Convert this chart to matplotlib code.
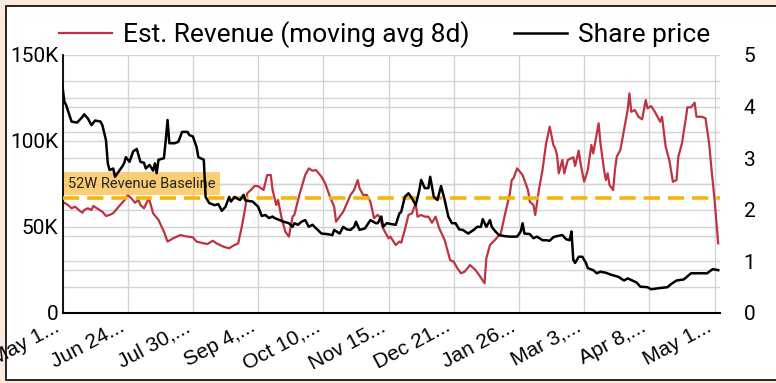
import matplotlib
matplotlib.use("Agg")
import matplotlib.pyplot as plt
from matplotlib.patches import Rectangle
from matplotlib.ticker import MultipleLocator, FuncFormatter
from matplotlib.transforms import blended_transform_factory

# days since May 19 (approx.)
price_days = [0, 1, 2, 5, 8, 11, 12, 14, 16, 18, 21, 22, 24, 25, 26, 28, 29, 31, 33, 34,
              35, 37, 39, 41, 43, 45, 46, 48, 50, 51, 52, 53, 56, 57, 58, 59, 62, 64, 66, 69,
              70, 72, 74, 75, 78, 79, 81, 84, 86, 88, 90, 92, 93, 95, 98, 100, 101, 105, 108, 110,
              112, 114, 116, 117, 120, 122, 125, 127, 128, 130, 132, 134, 136, 138, 140, 143, 146, 149, 150, 153,
              155, 157, 159, 161, 162, 164, 167, 170, 173, 174, 176, 177, 179, 182, 184, 186, 187, 189, 191, 193,
              195, 197, 198, 200, 202, 203, 205, 207, 209, 211, 213, 215, 217, 219, 221, 224, 227, 229, 231, 232,
              234, 236, 237, 239, 241, 244, 247, 251, 253, 254, 255, 258, 260, 262, 265, 267, 269, 271, 273, 276,
              278, 280, 281, 282, 283, 285, 287, 289, 290, 293, 295, 297, 300, 303, 307, 310, 312, 314, 317, 319,
              323, 325, 329, 334, 336, 339, 343, 346, 347, 351, 356, 357, 359, 362]
share_price = [4.39, 4.10, 4.03, 3.71, 3.69, 3.80, 3.85, 3.77, 3.64, 3.73, 3.71, 3.64, 3.35, 2.90, 2.77, 2.80, 2.64, 2.74, 2.84, 2.90,
               3.02, 2.93, 3.13, 3.18, 2.93, 2.91, 2.80, 2.87, 2.76, 2.90, 2.71, 2.97, 3.00, 3.35, 3.74, 3.29, 3.29, 3.32, 3.51, 3.51,
               3.45, 3.42, 3.22, 3.02, 2.97, 2.25, 2.13, 2.09, 2.11, 1.98, 2.06, 2.25, 2.16, 2.25, 2.19, 2.29, 2.18, 2.16, 2.06, 1.88,
               1.90, 1.84, 1.87, 1.84, 1.80, 1.77, 1.74, 1.67, 1.74, 1.71, 1.77, 1.80, 1.67, 1.71, 1.64, 1.54, 1.53, 1.51, 1.61, 1.54,
               1.67, 1.62, 1.61, 1.67, 1.77, 1.61, 1.64, 1.80, 1.74, 1.74, 1.87, 1.67, 1.74, 1.72, 1.71, 1.93, 1.96, 2.25, 2.32, 2.22,
               2.09, 2.38, 2.58, 2.42, 2.42, 2.64, 2.25, 2.19, 2.46, 2.19, 1.87, 1.74, 1.74, 1.62, 1.61, 1.54, 1.61, 1.67, 1.67, 1.82,
               1.67, 1.80, 1.67, 1.58, 1.51, 1.49, 1.48, 1.48, 1.58, 1.74, 1.54, 1.53, 1.45, 1.48, 1.41, 1.41, 1.40, 1.47, 1.49, 1.51,
               1.43, 1.41, 1.58, 1.03, 0.97, 1.09, 1.09, 0.97, 0.87, 0.83, 0.77, 0.80, 0.78, 0.74, 0.70, 0.63, 0.67, 0.64, 0.59, 0.51,
               0.50, 0.46, 0.48, 0.50, 0.56, 0.63, 0.65, 0.74, 0.77, 0.77, 0.77, 0.80, 0.85, 0.83]

rev_days = [0, 1, 3, 5, 7, 9, 11, 12, 14, 16, 17, 19, 22, 24, 26, 28, 31, 34, 36, 38,
            40, 42, 43, 45, 47, 48, 50, 53, 56, 58, 61, 65, 69, 72, 74, 78, 80, 83, 85, 89,
            92, 94, 97, 99, 101, 102, 104, 106, 108, 111, 113, 115, 116, 118, 119, 121, 123, 125, 127, 128,
            131, 134, 136, 138, 140, 143, 145, 148, 150, 151, 153, 155, 157, 159, 161, 163, 164, 166, 168, 170,
            172, 174, 175, 177, 180, 181, 184, 186, 187, 189, 191, 193, 195, 196, 198, 200, 202, 204, 206, 208,
            211, 214, 216, 218, 220, 222, 225, 228, 230, 233, 234, 236, 239, 242, 244, 247, 248, 249, 251, 254,
            255, 257, 258, 260, 261, 263, 265, 267, 269, 271, 272, 273, 274, 276, 277, 279, 282, 283, 285, 286,
            288, 290, 292, 293, 296, 297, 299, 300, 301, 302, 304, 305, 306, 308, 310, 312, 313, 314, 316, 318,
            320, 322, 323, 325, 327, 330, 331, 333, 335, 337, 339, 340, 342, 344, 345, 347, 349, 350, 353, 355,
            357, 358, 360, 362]
revenue_k = [64.7, 64.1, 62.8, 60.9, 61.8, 59.9, 58.3, 59.9, 60.9, 59.9, 62.2, 60.9, 58.9, 56.4, 57.0, 58.0, 61.8, 65.3, 68.6, 66.7,
             64.1, 65.7, 62.8, 60.9, 65.3, 65.7, 58.0, 54.1, 47.3, 41.5, 43.4, 45.3, 44.4, 44.0, 41.5, 40.5, 40.1, 42.0, 40.5, 38.5,
             37.6, 39.0, 40.5, 50.2, 61.8, 69.6, 71.5, 73.8, 73.8, 71.5, 80.2, 80.2, 71.5, 62.8, 65.7, 55.1, 47.3, 44.4, 56.0, 57.0,
             69.6, 80.2, 84.1, 82.7, 83.1, 79.2, 75.4, 66.7, 61.8, 53.1, 56.0, 58.9, 63.8, 68.6, 71.5, 77.3, 72.5, 68.6, 68.6, 64.7,
             55.1, 57.0, 56.0, 49.2, 43.4, 44.4, 39.5, 41.5, 40.9, 48.3, 57.0, 58.0, 63.8, 56.0, 57.0, 56.0, 56.0, 52.5, 56.0, 49.2,
             42.4, 30.8, 29.8, 26.0, 23.1, 24.0, 27.9, 25.0, 22.1, 17.3, 31.8, 39.5, 42.8, 46.3, 56.0, 69.6, 77.3, 78.3, 84.1, 80.2,
             77.3, 71.5, 64.7, 62.8, 57.0, 71.5, 83.1, 98.7, 108.3, 97.7, 95.8, 91.9, 81.2, 89.0, 81.2, 89.0, 90.5, 85.5, 94.4, 87.0,
             76.3, 83.1, 97.7, 92.8, 110.3, 98.7, 83.1, 77.3, 81.2, 74.4, 71.5, 83.1, 90.9, 94.8, 106.4, 118.0, 127.7, 117.0, 118.0, 114.1,
             112.6, 123.8, 119.0, 120.3, 117.0, 111.2, 114.1, 96.7, 89.0, 76.3, 77.3, 90.9, 98.7, 112.2, 119.6, 119.6, 122.3, 114.1, 114.1, 113.2,
             98.7, 87.0, 65.7, 40.5]

baseline_k = 67.0
tick_days = [0, 36, 72, 108, 144, 180, 216, 252, 288, 324, 360]
tick_labels = ["May 1...", "Jun 24...", "Jul 30,...", "Sep 4,...", "Oct 10,...", "Nov 15...",
               "Dec 21...", "Jan 26...", "Mar 3,...", "Apr 8,...", "May 1..."]

fig = plt.figure(figsize=(7.76, 3.83), dpi=100)
fig.patch.set_facecolor("#fbeadb")
fig.add_artist(Rectangle((6 / 776, 3 / 383), 1.0, 1 - 9 / 383, transform=fig.transFigure,
                         facecolor="white", edgecolor="black", linewidth=1.2, zorder=0))

ax = fig.add_axes([62.5 / 776, 1 - 313 / 383, (720 - 62.5) / 776, (313 - 55) / 383])
ax.patch.set_visible(False)
ax2 = ax.twinx()

grid_c = "#d4d4d4"
ax.set_xlim(0, 363)
ax.set_ylim(0, 150)
ax2.set_ylim(0, 5)

# gridlines (all on the bottom axes so lines stay on top)
ax.set_xticks(tick_days)
ax.yaxis.set_major_locator(MultipleLocator(50))
ax.yaxis.set_minor_locator(MultipleLocator(25))
ax.grid(True, which="both", color=grid_c, linewidth=1.0)
ax.set_axisbelow(True)
tr = blended_transform_factory(ax.transAxes, ax2.transData)
for v in [0.5, 1, 1.5, 2, 2.5, 3, 3.5, 4, 4.5]:
    ax.plot([0, 1], [v, v], transform=tr, color=grid_c, linewidth=1.0, zorder=0.5)

red = "#bf3340"
l1, = ax.plot(rev_days, revenue_k, color=red, linewidth=1.6, zorder=2,
              label="Est. Revenue (moving avg 8d)")
ax.axhline(baseline_k, color="#f5b50a", linewidth=2.6, dashes=(4.5, 2.2), zorder=3)
ax.annotate("52W Revenue Baseline", xy=(0, baseline_k), xytext=(4, 5), textcoords="offset points",
            ha="left", va="bottom", fontsize=10.5, family="Roboto", color="#222222",
            bbox=dict(boxstyle="square,pad=0.3", facecolor="#fbc049", alpha=0.75, edgecolor="none"),
            zorder=4)
l2, = ax2.plot(price_days, share_price, color="black", linewidth=1.8, label="Share price")

ax.yaxis.set_major_formatter(FuncFormatter(lambda v, p: "0" if v == 0 else f"{int(v)}K"))
ax.tick_params(axis="y", which="both", length=0, pad=3, labelsize=15)
for t in ax.get_yticklabels():
    t.set_family("Roboto")
ax.set_xticklabels(tick_labels, rotation=28, ha="right", fontsize=15, family="Liberation Sans")
ax.tick_params(axis="x", length=0, pad=3)
ax.yaxis.set_tick_params(which="minor", length=0)

ax2.yaxis.set_major_locator(MultipleLocator(1))
ax2.tick_params(axis="y", length=0, pad=17, labelsize=15)
for t in ax2.get_yticklabels():
    t.set_family("Roboto")

for a in (ax, ax2):
    a.spines["top"].set_visible(False)
    a.spines["right"].set_visible(False)
ax2.spines["left"].set_visible(False)
ax2.spines["bottom"].set_visible(False)
ax.spines["left"].set_linewidth(1.3)
ax.spines["bottom"].set_linewidth(1.5)

fig.legend(handles=[l1, l2], loc="center", bbox_to_anchor=(0.496, 1 - 35 / 383), ncol=2,
           frameon=False, prop={"family": "Roboto", "size": 19}, handlelength=2.0,
           columnspacing=1.7, handletextpad=0.42)

fig.savefig("out.png", dpi=100)
